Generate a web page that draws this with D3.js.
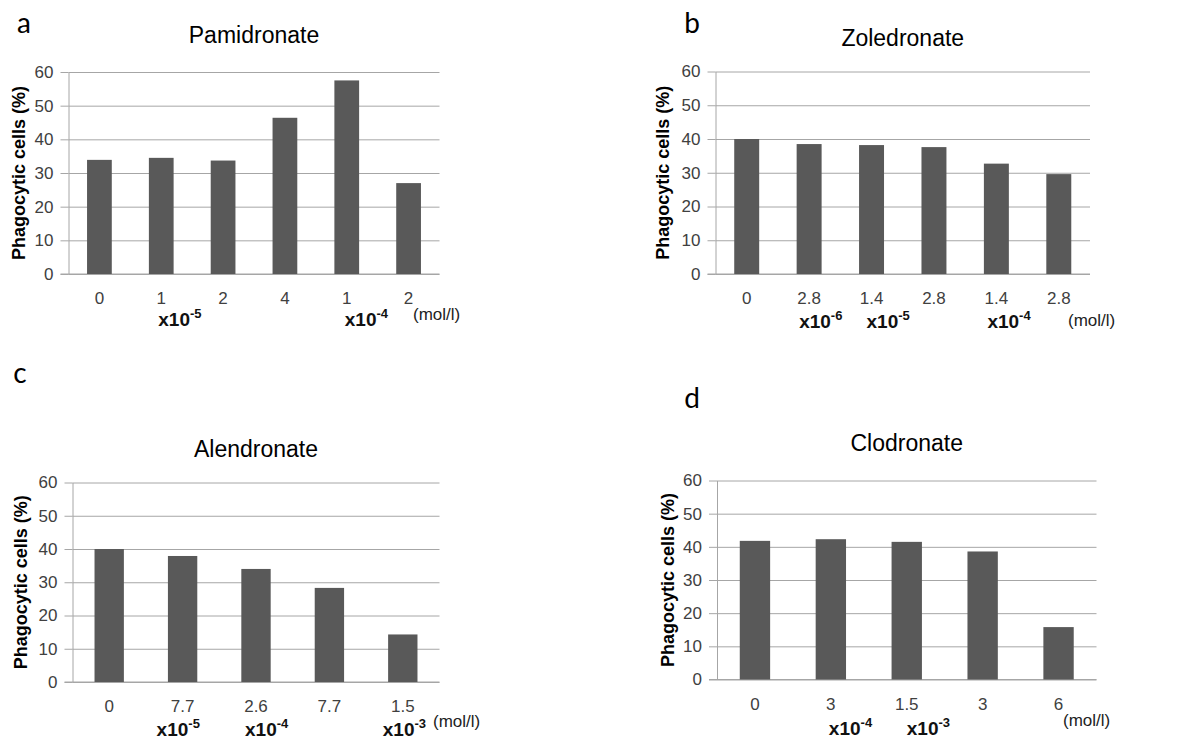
<!DOCTYPE html>
<html>
<head>
<meta charset="utf-8">
<script src="https://cdn.jsdelivr.net/npm/d3@7"></script>
<style>
  body { margin: 0; background: #fff; }
  svg { display: block; font-family: "Liberation Sans", Arial, sans-serif; }
</style>
</head>
<body>
<div id="chart"></div>
<script>
// values (phagocytic cells, %)
var pamConc = ["0", "1", "2", "4", "1", "2"]
var pamVals = [33.9, 34.5, 33.7, 46.4, 57.5, 27.0]
var pamMult = [{cat: 1, exp: "-5"}, {cat: 4, exp: "-4"}]

var zolConc = ["0", "2.8", "1.4", "2.8", "1.4", "2.8"]
var zolVals = [40.0, 38.5, 38.2, 37.6, 32.7, 29.6]
var zolMult = [{cat: 1, exp: "-6"}, {cat: 2, exp: "-5"}, {cat: 4, exp: "-4"}]

var aleConc = ["0", "7.7", "2.6", "7.7", "1.5"]
var aleVals = [40.0, 37.9, 34.0, 28.3, 14.3]
var aleMult = [{cat: 1, exp: "-5"}, {cat: 2, exp: "-4"}, {cat: 4, exp: "-3"}]

var cloConc = ["0", "3", "1.5", "3", "6"]
var cloVals = [41.8, 42.3, 41.5, 38.6, 15.8]
var cloMult = [{cat: 1, exp: "-4"}, {cat: 2, exp: "-3"}]

var yTicks = [0, 10, 20, 30, 40, 50, 60]
var yLabel = "Phagocytic cells (%)"
var unit = "(mol/l)"

var W = 1200, H = 742
var bar_color = "#595959", grid_color = "#a6a6a6", txt_color = "#404040"

var svg = d3.select("#chart").append("svg")
    .attr("width", W)
    .attr("height", H)

// layout for each panel, in page pixels
var panels = [
  {letter: "a", title: "Pamidronate", conc: pamConc, vals: pamVals, mult: pamMult,
   x0: 68.5, x1: 439.5, y0: 274, y1: 72, letterX: 24, letterY: 33, titleY: 43,
   ylabX: 25, multDx: [-3, -2], multY: 52, unitX: 413, unitY: 46},
  {letter: "b", title: "Zoledronate", conc: zolConc, vals: zolVals, mult: zolMult,
   x0: 715.5, x1: 1090, y0: 274, y1: 71.5, letterX: 692, letterY: 33, titleY: 45.5,
   ylabX: 669, multDx: [-10, -5, -9], multY: 54, unitX: 1068, unitY: 52},
  {letter: "c", title: "Alendronate", conc: aleConc, vals: aleVals, mult: aleMult,
   x0: 72.5, x1: 439.5, y0: 682, y1: 482.5, letterX: 20, letterY: 383, titleY: 456.5,
   ylabX: 27, multDx: [-26, -11, -20], multY: 54, unitX: 433, unitY: 45},
  {letter: "d", title: "Clodronate", conc: cloConc, vals: cloVals, mult: cloMult,
   x0: 717, x1: 1096.5, y0: 679.5, y1: 480.5, letterX: 692, letterY: 408, titleY: 450.5,
   ylabX: 674, multDx: [-2, 0], multY: 55, unitX: 1063, unitY: 46}
]

panels.forEach(draw_panel)

function draw_panel(p) {
    var g = svg.append("g").attr("class", "panel_" + p.letter)
    var idx = d3.range(p.vals.length)

    var x = d3.scaleBand().domain(idx).range([p.x0, p.x1]).paddingInner(0.6).paddingOuter(0.3)
    var y = d3.scaleLinear().domain([0, 60]).range([p.y0, p.y1])

    // horizontal gridlines
    g.append("g")
        .attr("transform", "translate(" + p.x0 + ",0)")
        .call(d3.axisLeft(y).tickValues(yTicks).tickSize(-(p.x1 - p.x0)).tickFormat(""))
        .call(function(a) { a.select(".domain").remove() })
        .selectAll("line").attr("stroke", grid_color)

    // left axis with outside ticks and labels
    var ya = g.append("g")
        .attr("transform", "translate(" + p.x0 + ",0)")
        .call(d3.axisLeft(y).tickValues(yTicks).tickSize(8).tickSizeOuter(0).tickPadding(7))
    ya.select(".domain").attr("stroke", grid_color)
    ya.selectAll("line").attr("stroke", grid_color)
    ya.selectAll("text")
        .attr("fill", txt_color)
        .style("font-size", "17px")

    // bottom axis line
    g.append("line")
        .attr("x1", p.x0 - 8).attr("x2", p.x1)
        .attr("y1", y(0)).attr("y2", y(0))
        .attr("stroke", grid_color)

    g.selectAll(".bar").data(idx)
        .enter()
        .append("rect")
        .attr("class", "bar")
        .attr("x", function(i) { return x(i) })
        .attr("width", x.bandwidth())
        .attr("y", function(i) { return y(p.vals[i]) })
        .attr("height", function(i) { return y(0) - y(p.vals[i]) })
        .style("fill", bar_color)

    // concentration labels under each bar
    g.selectAll(".conc").data(idx)
        .enter()
        .append("text")
        .attr("class", "conc")
        .attr("x", function(i) { return x(i) + x.bandwidth() / 2 })
        .attr("y", p.y0 + 30)
        .attr("text-anchor", "middle")
        .attr("fill", txt_color)
        .style("font-size", "17px")
        .text(function(i) { return p.conc[i] })

    // x10^n multipliers
    var mt = g.selectAll(".mult").data(p.mult)
        .enter()
        .append("text")
        .attr("class", "mult")
        .attr("x", function(d, k) { return x(d.cat) + x.bandwidth() / 2 + p.multDx[k] })
        .attr("y", p.y0 + p.multY)
        .attr("fill", "#111")
        .style("font-size", "19px")
        .style("font-weight", "bold")
    mt.append("tspan").text("x10")
    mt.append("tspan")
        .attr("dy", -8)
        .style("font-size", "13px")
        .text(function(d) { return d.exp })

    g.append("text")
        .attr("x", p.unitX)
        .attr("y", p.y0 + p.unitY)
        .attr("fill", "#222")
        .style("font-size", "17px")
        .text(unit)

    g.append("text")
        .attr("transform", "translate(" + p.ylabX + "," + ((p.y0 + p.y1) / 2) + ") rotate(-90)")
        .attr("text-anchor", "middle")
        .attr("fill", "#000")
        .style("font-size", "18px")
        .style("font-weight", "bold")
        .text(yLabel)

    g.append("text")
        .attr("x", (p.x0 + p.x1) / 2)
        .attr("y", p.titleY)
        .attr("text-anchor", "middle")
        .attr("fill", "#000")
        .style("font-size", "23px")
        .text(p.title)

    g.append("text")
        .attr("x", p.letterX)
        .attr("y", p.letterY)
        .attr("text-anchor", "middle")
        .attr("fill", "#000")
        .style("font-family", "Lato, 'Open Sans', sans-serif")
        .style("font-size", "28px")
        .text(p.letter)
}
</script>
</body>
</html>
